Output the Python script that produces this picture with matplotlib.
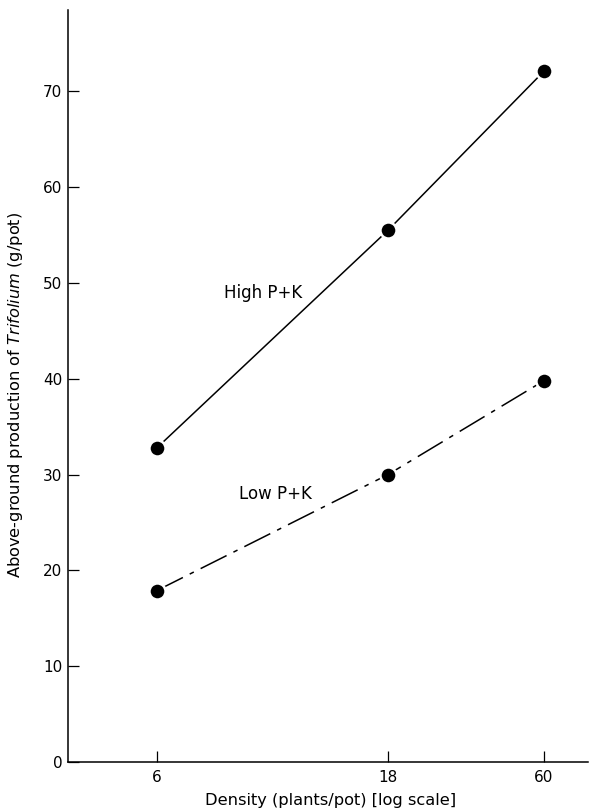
import matplotlib
matplotlib.use("Agg")
import matplotlib.pyplot as plt

plt.rcParams['font.family'] = ['DejaVu Sans']
plt.rcParams['mathtext.fontset'] = 'custom'
plt.rcParams['mathtext.it'] = 'DejaVu Sans:italic'
plt.rcParams['mathtext.rm'] = 'DejaVu Sans'

# Data
densities = ["6", "18", "60"]
high_pk = [32.8, 55.5, 72.1]
low_pk = [17.9, 30.0, 39.8]
y_ticks = [0, 10, 20, 30, 40, 50, 60, 70]

# Layout: horizontal placement of the density ticks (as drawn in the original)
x_pos = [0.0, 1.0, 1.675]

fig = plt.figure(figsize=(5.89, 8.11), dpi=100)
ax = fig.add_axes([68/589, 49/811, 1 - 68/589 - 1/589, (762-10)/811])

mk = dict(marker='o', markersize=11.6, markerfacecolor='black',
          markeredgecolor='white', markeredgewidth=1.8, color='black')
ax.plot(x_pos, high_pk, linestyle='-', linewidth=1.1, **mk)
ax.plot(x_pos, low_pk, linestyle=(0, (19, 5, 3, 5)), linewidth=1.1, **mk)

ax.set_xlim(-0.385, 1.866)
ax.set_ylim(0, 78.5)

ax.spines['top'].set_visible(False)
ax.spines['right'].set_visible(False)
ax.spines['left'].set_linewidth(1.1)
ax.spines['bottom'].set_linewidth(1.1)

ax.set_xticks(x_pos)
ax.set_xticklabels(densities)
ax.set_yticks(y_ticks)
ax.set_yticklabels([str(v) for v in y_ticks])
ax.tick_params(axis='both', direction='in', length=8, width=0.9,
               labelsize=11, colors='black')
ax.tick_params(axis='y', pad=4)
ax.tick_params(axis='x', pad=6)

ax.text(0.459, 49.0, "High P+K", ha='center', va='center', fontsize=12)
ax.text(0.511, 28.0, "Low P+K", ha='center', va='center', fontsize=12)

fig.text(331/589, 1 - 801/811, "Density (plants/pot) [log scale]",
         ha='center', va='center', fontsize=11.7)
fig.text(16/589, 1 - 395/811,
         r"Above-ground production of $\it{Trifolium}$ (g/pot)",
         ha='center', va='center', rotation=90, fontsize=11.7)

fig.savefig("out.png", dpi=100)
